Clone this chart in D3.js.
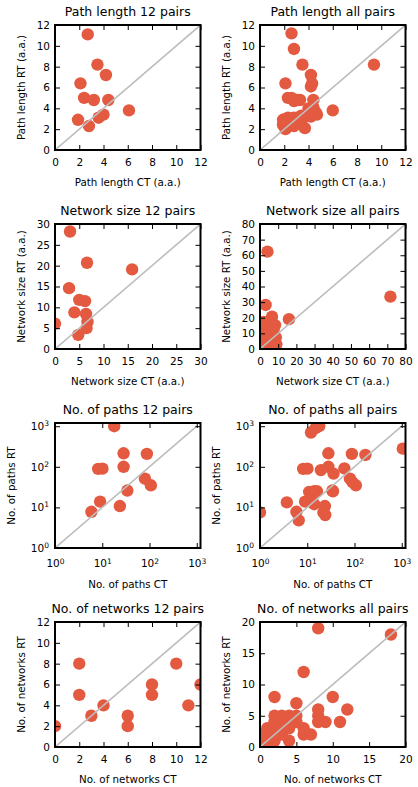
<!DOCTYPE html>
<html><head><meta charset="utf-8">
<script src="https://cdn.jsdelivr.net/npm/d3@7"></script>
<style>body{margin:0;background:#fff}svg{display:block;font-family:"DejaVu Sans",sans-serif}</style>
</head><body>
<script>
// ---- data ----
const pathLen12CT = [2.7,3.5,4.2,2.1,2.4,3.2,4.4,6.1,3.6,4.0,1.9,2.8];
const pathLen12RT = [11.1,8.2,7.2,6.4,5.0,4.8,4.8,3.8,3.1,3.4,2.9,2.3];
const pathLenAllCT = [2.6,2.8,3.5,9.4,4.2,4.3,4.2,2.1,2.3,2.6,3.1,2.8,3.3,4.4,6.0,4.7,4.1,3.6,4.0,4.4,2.0,2.3,1.9,2.1,2.5,2.8,2.6,2.8,3.7,4.2,4.6,2.3,1.9,3.1,3.4];
const pathLenAllRT = [11.2,9.7,8.2,8.2,7.2,6.4,6.1,6.4,5.0,5.0,4.8,4.7,4.8,4.8,3.8,3.4,3.4,3.1,4.0,4.1,2.9,2.7,2.4,2.0,3.0,3.1,2.6,2.3,2.1,3.2,3.6,3.1,2.9,2.7,3.3];
const netSize12CT = [3.1,6.6,15.9,2.9,5.0,6.2,4.0,6.4,0.0,6.7,6.5,4.8];
const netSize12RT = [28.2,20.7,19.1,14.6,11.8,11.5,8.8,8.4,6.1,6.5,5.0,3.4];
const netSizeAllCT = [4.1,71.7,3.1,6.6,15.9,2.9,5.0,6.2,4.0,6.4,0.0,6.7,6.5,4.8,8.3,7.5,8.7,1.5,0.8,2.0,1.2,3.0,7.0,9.0,2.5,5.0,2.2,1.0];
const netSizeAllRT = [62.3,33.5,28.2,20.7,19.1,14.6,11.8,11.5,8.8,8.4,6.1,6.5,5.0,3.4,15.3,12.5,7.5,12.0,8.0,4.0,2.0,2.0,2.0,3.0,16.0,16.0,17.3,11.9];
const nPaths12CT = [17.9,28.3,88,28.3,8.2,10.1,80,107,34,9.0,23.6,5.9];
const nPaths12RT = [1000,215,208,100,89,90,51,35,26,13.9,10.8,7.8];
const nPathsAllCT = [17.9,15,12,28,88,170,1050,8.2,10.1,19.4,28,36,61,80,90,107,34,11,14,16,12,9,14,23.6,22,24,3.7,5.9,6.6,1,13,35];
const nPathsAllRT = [1000,900,700,215,208,196,280,89,90,83,100,68,91,51,42,35,26,24,25,25,18,13.9,12,10.8,7.5,6.5,13.3,7.8,4.8,7.5,22,25];
const nNet12CT = [2,2,0,3,4,6,6,8,8,10,11,12];
const nNet12RT = [8,5,2,3,4,3,2,6,5,8,4,6];
const nNetAllCT = [8,18,6,2,10,5,12,8,8,8,9,11,6,6,7,4,2,2,3,4,5,2,3,4,5,3,2,0,1,0,1,2,1,3,4];
const nNetAllRT = [19,18,12,8,8,7,6,6,5,4,4,4,3,2,2,1,1,5,5,5,5,4,4,4,4,3,3,2,2,1,1,2,3,2,3];

const titles = ["Path length 12 pairs","Path length all pairs","Network size 12 pairs","Network size all pairs",
  "No. of paths 12 pairs","No. of paths all pairs","No. of networks 12 pairs","No. of networks all pairs"];
const xLabels = ["Path length CT (a.a.)","Path length CT (a.a.)","Network size CT (a.a.)","Network size CT (a.a.)",
  "No. of paths CT","No. of paths CT","No. of networks CT","No. of networks CT"];
const yLabels = ["Path length RT (a.a.)","Path length RT (a.a.)","Network size RT (a.a.)","Network size RT (a.a.)",
  "No. of paths RT","No. of paths RT","No. of networks RT","No. of networks RT"];
const pathLenTicks = [0,2,4,6,8,10,12];
const netSize12Ticks = [0,5,10,15,20,25,30];
const netSizeAllTicks = [0,10,20,30,40,50,60,70,80];
const logTicks = [1,10,100,1000];
const nNet12Ticks = [0,2,4,6,8,10,12];
const nNetAllTicks = [0,5,10,15,20];

const panels = [
  {x:pathLen12CT, y:pathLen12RT, ticks:pathLenTicks},
  {x:pathLenAllCT, y:pathLenAllRT, ticks:pathLenTicks},
  {x:netSize12CT, y:netSize12RT, ticks:netSize12Ticks},
  {x:netSizeAllCT, y:netSizeAllRT, ticks:netSizeAllTicks},
  {x:nPaths12CT, y:nPaths12RT, ticks:logTicks, log:true},
  {x:nPathsAllCT, y:nPathsAllRT, ticks:logTicks, log:true},
  {x:nNet12CT, y:nNet12RT, ticks:nNet12Ticks},
  {x:nNetAllCT, y:nNetAllRT, ticks:nNetAllTicks}
];

// ---- drawing ----
const W = 418, H = 787;
const colX = [55, 260], rowY = [25, 224, 423, 622], pw = 145.5, ph = 125;
const dotColor = "#E35A41";
const svg = d3.select("body").append("svg").attr("width", W).attr("height", H);

function supLabels(sel) {
  sel.selectAll(".tick text").each(function(d) {
    const e = Math.round(Math.log10(d));
    const t = d3.select(this);
    t.text("10");
    t.append("tspan").attr("dy", "-0.5em").attr("font-size", "0.72em").text(e);
  });
}

panels.forEach((p, i) => {
  const c = i % 2, r = Math.floor(i / 2);
  const g = svg.append("g").attr("transform", `translate(${colX[c]},${rowY[r]})`);
  let x, y, lo, hi;
  if (p.log) {
    x = d3.scaleLog().domain([1, 1200]).range([0, pw]);
    y = d3.scaleLog().domain([1, 1200]).range([ph, 0]);
    lo = 1; hi = 1000;
  } else {
    const m = p.ticks[p.ticks.length - 1];
    x = d3.scaleLinear().domain([0, m]).range([0, pw]);
    y = d3.scaleLinear().domain([0, m]).range([ph, 0]);
    lo = 0; hi = m;
  }
  const cid = "clip" + i;
  g.append("clipPath").attr("id", cid).append("rect").attr("width", pw).attr("height", ph);
  const plot = g.append("g").attr("clip-path", `url(#${cid})`);
  plot.selectAll("circle").data(d3.range(p.x.length)).join("circle")
    .attr("cx", k => x(p.x[k])).attr("cy", k => y(p.y[k])).attr("r", 6.2)
    .attr("fill", dotColor);
  plot.append("line").attr("x1", x(lo)).attr("y1", y(lo)).attr("x2", x(hi)).attr("y2", y(hi))
    .attr("stroke", "#bdbdbd").attr("stroke-width", 1.6);

  const fs = 10.5;
  const xb = g.append("g").attr("transform", `translate(0,${ph})`)
    .call(d3.axisBottom(x).tickValues(p.ticks).tickSizeInner(-5).tickSizeOuter(0).tickPadding(p.log ? 12 : 9).tickFormat(d3.format("d")));
  const yl = g.append("g")
    .call(d3.axisLeft(y).tickValues(p.ticks).tickSizeInner(-5).tickSizeOuter(0).tickPadding(p.log ? 6 : 5).tickFormat(d3.format("d")));
  const xt = g.append("g").call(d3.axisTop(x).tickValues(p.ticks).tickSizeInner(-5).tickSizeOuter(0).tickFormat(""));
  const yr = g.append("g").attr("transform", `translate(${pw},0)`)
    .call(d3.axisRight(y).tickValues(p.ticks).tickSizeInner(-5).tickSizeOuter(0).tickFormat(""));
  [xb, yl, xt, yr].forEach(a => {
    a.select(".domain").remove();
    a.selectAll("line").attr("stroke", "#000").attr("stroke-width", 1);
    a.selectAll("text").attr("font-size", fs).attr("fill", "#000").attr("font-family", '"DejaVu Sans",sans-serif');
  });
  if (p.log) { supLabels(xb); supLabels(yl); }

  g.append("rect").attr("width", pw).attr("height", ph).attr("fill", "none")
    .attr("stroke", "#000").attr("stroke-width", 2);

  g.append("text").attr("x", pw / 2).attr("y", -9).attr("text-anchor", "middle")
    .attr("font-size", 12.5).attr("fill", "#000").text(titles[i]);
  g.append("text").attr("x", pw / 2).attr("y", ph + (p.log ? 40 : 35.5)).attr("text-anchor", "middle")
    .attr("font-size", 10.3).attr("fill", "#000").text(xLabels[i]);
  g.append("text").attr("transform", `translate(${p.log ? -44 : -34},${ph / 2}) rotate(-90)`)
    .attr("dy", "0.35em").attr("text-anchor", "middle")
    .attr("font-size", 10.3).attr("fill", "#000").text(yLabels[i]);
});
</script>
</body></html>
